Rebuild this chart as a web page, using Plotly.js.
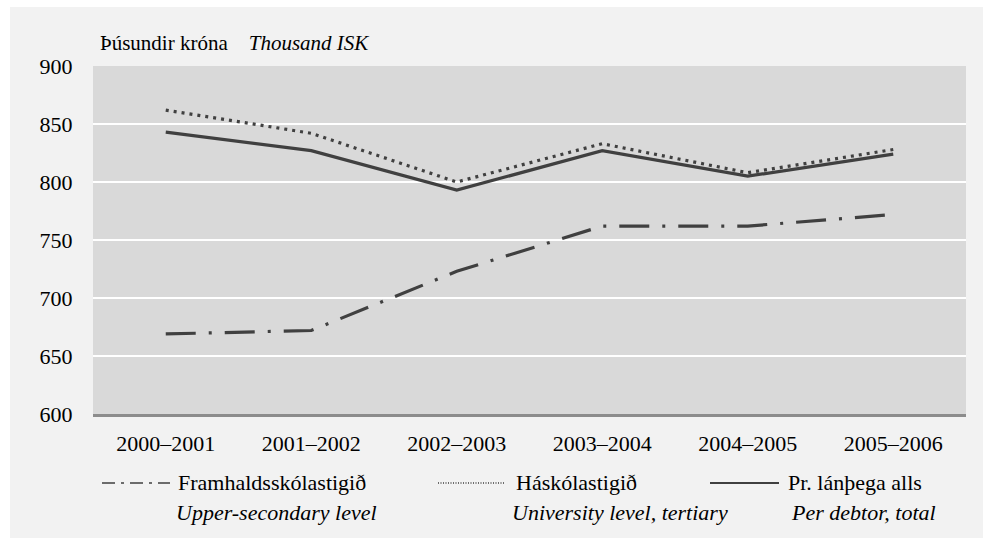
<!DOCTYPE html>
<html>
<head>
<meta charset="utf-8">
<script src="https://cdn.plot.ly/plotly-3.0.1.min.js"></script>
<style>
  html, body { margin: 0; padding: 0; background: #ffffff; }
  #chart { position: absolute; left: 10px; top: 7px; width: 973px; height: 531px; }
</style>
</head>
<body>
<div id="chart"></div>
<script>
// ---- Data ----
const categories = ['2000–2001', '2001–2002', '2002–2003', '2003–2004', '2004–2005', '2005–2006'];
const upperSecondary = [669, 672, 723, 762, 762, 772];   // Framhaldsskólastigið
const university     = [862, 842, 800, 833, 808, 828];   // Háskólastigið
const perDebtor      = [843, 827, 793, 827, 805, 824];   // Pr. lánþega alls
const yTicks = [600, 650, 700, 750, 800, 850, 900];

const seriesNames = ['Framhaldsskólastigið', 'Háskólastigið', 'Pr. lánþega alls'];
const seriesNamesEn = ['Upper-secondary level', 'University level, tertiary', 'Per debtor, total'];

const lineColor = '#404040';
const font = 'Liberation Serif';

const traces = [
  { x: categories, y: upperSecondary, name: seriesNames[0], type: 'scatter', mode: 'lines',
    line: { color: lineColor, width: 3.2, dash: '30px,13px,3px,13px' } },
  { x: categories, y: university, name: seriesNames[1], type: 'scatter', mode: 'lines',
    line: { color: lineColor, width: 3.2, dash: '3px,5px' } },
  { x: categories, y: perDebtor, name: seriesNames[2], type: 'scatter', mode: 'lines',
    line: { color: lineColor, width: 3.2 } }
];

// Custom legend (symbol lines + two-line labels) placed below the plot area
const W = 873, H = 348;          // plot area size in px
const px = v => (v - 93) / W;     // page x -> paper x
const py = v => (414 - v) / H;    // page y -> paper y

const legendSymbols = [
  { x0: 102, x1: 170, dash: '13px,6px,3px,6px', width: 1.6 },
  { x0: 438, x1: 504, dash: '1px,1.5px', width: 1.6 },
  { x0: 710, x1: 779, dash: 'solid', width: 1.8 }
];
const legendTextX = [176, 514, 786];
const legendTextX2 = [174, 510, 789];
const row1 = 482, row2 = 512;

const shapes = legendSymbols.map(s => ({
  type: 'line', xref: 'paper', yref: 'paper',
  x0: px(s.x0), x1: px(s.x1), y0: py(row1 + 1), y1: py(row1 + 1),
  line: { color: lineColor, width: s.width, dash: s.dash }
}));

const annotations = [];
seriesNames.forEach((n, i) => {
  annotations.push({ xref: 'paper', yref: 'paper', x: px(legendTextX[i]), y: py(row1),
    xanchor: 'left', yanchor: 'middle', showarrow: false, text: n,
    font: { family: font, size: 22, color: '#000' } });
  annotations.push({ xref: 'paper', yref: 'paper', x: px(legendTextX2[i]), y: py(row2),
    xanchor: 'left', yanchor: 'middle', showarrow: false, text: '<i>' + seriesNamesEn[i] + '</i>',
    font: { family: font, size: 22, color: '#000' } });
});
// Axis unit title
annotations.push({ xref: 'paper', yref: 'paper', x: px(98), y: py(43),
  xanchor: 'left', yanchor: 'middle', showarrow: false,
  text: 'Þúsundir króna&nbsp;&nbsp;&nbsp; <i>Thousand ISK</i>',
  font: { family: font, size: 21, color: '#000' } });

const layout = {
  width: 973, height: 531,
  paper_bgcolor: '#f2f2f2',
  plot_bgcolor: '#d9d9d9',
  margin: { l: 83, r: 17, t: 59, b: 124 },
  showlegend: false,
  font: { family: font, size: 22, color: '#000' },
  xaxis: {
    type: 'category', range: [-0.5, 5.5],
    showgrid: false, zeroline: false,
    showline: true, linecolor: '#8c8c8c', linewidth: 2.5,
    ticks: 'outside', ticklen: 8, tickcolor: 'rgba(0,0,0,0)',
    tickfont: { family: font, size: 22, color: '#000' }
  },
  yaxis: {
    range: [600, 900], tickvals: yTicks, ticktext: yTicks.map(String),
    showgrid: true, gridcolor: '#ffffff', gridwidth: 2,
    zeroline: false, showline: false,
    ticks: 'outside', ticklen: 15, tickcolor: 'rgba(0,0,0,0)',
    tickfont: { family: font, size: 22, color: '#000' }
  },
  shapes: shapes,
  annotations: annotations
};

Plotly.newPlot('chart', traces, layout, { displayModeBar: false });
</script>
</body>
</html>
